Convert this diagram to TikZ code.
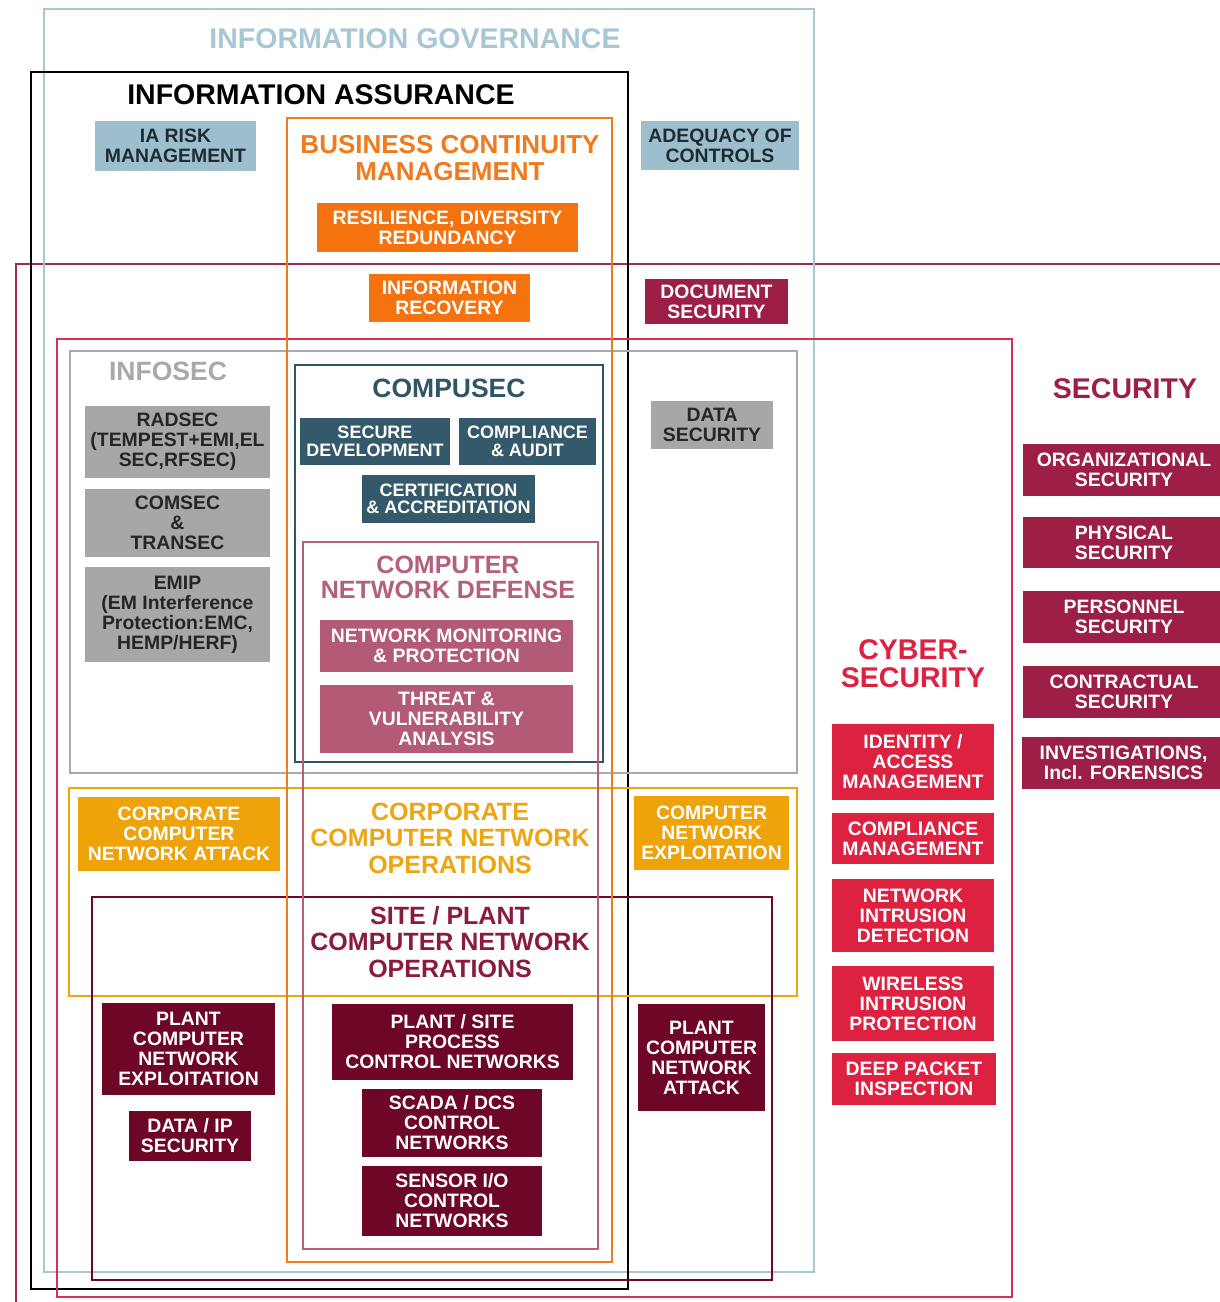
\documentclass[tikz,border=0pt]{standalone}
\usepackage{fontspec}
\setmainfont{Liberation Sans}
\definecolor{igblue}{HTML}{A8C7D4}
\definecolor{iabox}{HTML}{9DBECC}
\definecolor{iatext}{HTML}{1E2B33}
\definecolor{bcorange}{HTML}{F07A1C}
\definecolor{orbox}{HTML}{F5730E}
\definecolor{secbox}{HTML}{9E1F45}
\definecolor{secframe}{HTML}{A3284F}
\definecolor{cyred}{HTML}{DD2241}
\definecolor{cyframe}{HTML}{D8304E}
\definecolor{isgray}{HTML}{A7A9AB}
\definecolor{isbox}{HTML}{A5A7A9}
\definecolor{istext}{HTML}{252525}
\definecolor{cmteal}{HTML}{2F5566}
\definecolor{cmbox}{HTML}{34596A}
\definecolor{cndpink}{HTML}{B5607A}
\definecolor{cndbox}{HTML}{B35A75}
\definecolor{goldframe}{HTML}{EEA512}
\definecolor{goldbox}{HTML}{EFA30B}
\definecolor{plantframe}{HTML}{6B0A25}
\definecolor{plantbox}{HTML}{6E0626}
\definecolor{sitetext}{HTML}{8A1B3C}
\tikzset{
  frame/.style={line width=2.9pt},
  bx/.style={inner sep=0pt, align=center, font=\bfseries\fontsize{19.4}{20}\selectfont},
  smallbx/.style={bx, font=\bfseries\fontsize{18}{17.5}\selectfont},
  ttl/.style={inner sep=0pt, align=center, font=\bfseries\fontsize{25}{26.5}\selectfont},
  bigttl/.style={inner sep=0pt, align=center, font=\bfseries\fontsize{28.5}{30}\selectfont},
  blueb/.style={bx, fill=iabox, text=iatext},
  orangeb/.style={bx, fill=orbox, text=white},
  secb/.style={bx, fill=secbox, text=white},
  grayb/.style={bx, fill=isbox, text=istext},
  tealb/.style={smallbx, fill=cmbox, text=white},
  pinkb/.style={bx, fill=cndbox, text=white},
  cyb/.style={bx, fill=cyred, text=white},
  goldb/.style={bx, fill=goldbox, text=white},
  plantb/.style={bx, fill=plantbox, text=white}
}
\begin{document}
\begin{tikzpicture}[x=1pt,y=-1pt]
\useasboundingbox (0,0) rectangle (1220,1302);
\clip (0,0) rectangle (1220,1302);
\fill[white] (0,0) rectangle (1220,1302);

% frames
\draw[frame, secframe] (16,264) rectangle (1260,1340);
\draw[frame, igblue] (44,9) rectangle (814,1272);
\draw[frame, black] (31,72) rectangle (628,1289);
\draw[frame, cyframe] (57,339) rectangle (1012,1297);
\draw[frame, isgray] (70,351) rectangle (797,773);
\draw[frame, goldframe] (69,788) rectangle (797,996);
\draw[frame, plantframe] (92,897) rectangle (772,1280);
\draw[frame, bcorange] (287,118) rectangle (612,1262);
\draw[frame, cmteal] (295,365) rectangle (603,762);
\draw[frame, cndpink] (303,542) rectangle (598,1249);

% titles
\node[bigttl, text=igblue] (tig) at (415,39) {INFORMATION GOVERNANCE};
\node[bigttl, text=black] (tia) at (321,95) {INFORMATION ASSURANCE};
\node[ttl, text=bcorange, font=\bfseries\fontsize{26}{27}\selectfont] (tbcm) at (450,158) {BUSINESS CONTINUITY\\MANAGEMENT};
\node[ttl, text=isgray, font=\bfseries\fontsize{26.5}{28}\selectfont] (tinfosec) at (168,371) {INFOSEC};
\node[ttl, text=cmteal, font=\bfseries\fontsize{26.5}{28}\selectfont] (tcompusec) at (449,388) {COMPUSEC};
\node[ttl, text=cndpink, font=\bfseries\fontsize{25}{25}\selectfont] (tcnd) at (448,577) {COMPUTER\\NETWORK DEFENSE};
\node[ttl, text=secbox, font=\bfseries\fontsize{28.5}{28}\selectfont] (tsec) at (1125,389) {SECURITY};
\node[ttl, text=cyred, font=\bfseries\fontsize{28.5}{28}\selectfont] (tcyber) at (913,664) {CYBER-\\SECURITY};
\node[ttl, text=goldframe] (tcorp) at (450,838) {CORPORATE\\COMPUTER NETWORK\\OPERATIONS};
\node[ttl, text=sitetext] (tsite) at (450,942) {SITE / PLANT\\COMPUTER NETWORK\\OPERATIONS};

% information governance / assurance boxes
\node[blueb, minimum width=161pt, minimum height=50pt] (iarisk) at (175.5,146) {IA RISK\\MANAGEMENT};
\node[blueb, minimum width=158pt, minimum height=49pt] (adequacy) at (720,145.5) {ADEQUACY OF\\CONTROLS};
\node[orangeb, minimum width=261pt, minimum height=49pt] (resil) at (447.5,227.5) {RESILIENCE, DIVERSITY\\REDUNDANCY};
\node[orangeb, minimum width=161pt, minimum height=48pt] (recov) at (449.5,298) {INFORMATION\\RECOVERY};
\node[secb, minimum width=143pt, minimum height=45pt] (docsec) at (716.5,301.5) {DOCUMENT\\SECURITY};

% infosec
\node[grayb, minimum width=185pt, minimum height=72pt] (radsec) at (177.5,442) {RADSEC\\(TEMPEST+EMI,EL\\SEC,RFSEC)};
\node[grayb, minimum width=185pt, minimum height=68pt] (comsec) at (177.5,523) {COMSEC\\\&\\TRANSEC};
\node[grayb, minimum width=185pt, minimum height=95pt] (emip) at (177.5,614.5) {EMIP\\(EM Interference\\Protection:EMC,\\HEMP/HERF)};
\node[grayb, minimum width=122pt, minimum height=48pt] (datasec) at (712,425) {DATA\\SECURITY};

% compusec
\node[tealb, minimum width=150pt, minimum height=47pt] (securedev) at (375,441.5) {SECURE\\DEVELOPMENT};
\node[tealb, minimum width=137pt, minimum height=47pt] (compaudit) at (527.5,441.5) {COMPLIANCE\\\& AUDIT};
\node[tealb, minimum width=173pt, minimum height=48pt] (certacc) at (448.5,499) {CERTIFICATION\\\& ACCREDITATION};

% cnd
\node[pinkb, minimum width=253pt, minimum height=52pt] (netmon) at (446.5,646) {NETWORK MONITORING\\\& PROTECTION};
\node[pinkb, minimum width=253pt, minimum height=68pt] (threat) at (446.5,719) {THREAT \&\\VULNERABILITY\\ANALYSIS};

% security
\node[secb, minimum width=202pt, minimum height=52pt] (orgsec) at (1124,470) {ORGANIZATIONAL\\SECURITY};
\node[secb, minimum width=202pt, minimum height=51pt] (physsec) at (1124,542.5) {PHYSICAL\\SECURITY};
\node[secb, minimum width=202pt, minimum height=52pt] (perssec) at (1124,617) {PERSONNEL\\SECURITY};
\node[secb, minimum width=202pt, minimum height=52pt] (contsec) at (1124,692) {CONTRACTUAL\\SECURITY};
\node[secb, minimum width=203pt, minimum height=52pt] (invest) at (1123.5,763) {INVESTIGATIONS,\\Incl. FORENSICS};

% cyber-security
\node[cyb, minimum width=162pt, minimum height=76pt] (identity) at (913,762) {IDENTITY /\\ACCESS\\MANAGEMENT};
\node[cyb, minimum width=162pt, minimum height=51pt] (compmgmt) at (913,838.5) {COMPLIANCE\\MANAGEMENT};
\node[cyb, minimum width=162pt, minimum height=73pt] (nids) at (913,915.5) {NETWORK\\INTRUSION\\DETECTION};
\node[cyb, minimum width=162pt, minimum height=75pt] (wips) at (913,1003.5) {WIRELESS\\INTRUSION\\PROTECTION};
\node[cyb, minimum width=164pt, minimum height=52pt] (dpi) at (914,1079) {DEEP PACKET\\INSPECTION};

% corporate CNO
\node[goldb, minimum width=202pt, minimum height=74pt] (ccna) at (179,834) {CORPORATE\\COMPUTER\\NETWORK ATTACK};
\node[goldb, minimum width=155pt, minimum height=74pt] (cne) at (711.5,833) {COMPUTER\\NETWORK\\EXPLOITATION};

% site / plant CNO
\node[plantb, minimum width=173pt, minimum height=92pt] (pcne) at (188.5,1049) {PLANT\\COMPUTER\\NETWORK\\EXPLOITATION};
\node[plantb, minimum width=122pt, minimum height=50pt] (dataip) at (190,1136) {DATA / IP\\SECURITY};
\node[plantb, minimum width=241pt, minimum height=76pt] (pspcn) at (452.5,1042) {PLANT / SITE\\PROCESS\\CONTROL NETWORKS};
\node[plantb, minimum width=180pt, minimum height=68pt] (scada) at (452,1123) {SCADA / DCS\\CONTROL\\NETWORKS};
\node[plantb, minimum width=180pt, minimum height=70pt] (sensor) at (452,1201) {SENSOR I/O\\CONTROL\\NETWORKS};
\node[plantb, minimum width=127pt, minimum height=107pt] (pcna) at (701.5,1057.5) {PLANT\\COMPUTER\\NETWORK\\ATTACK};
\end{tikzpicture}
\end{document}
